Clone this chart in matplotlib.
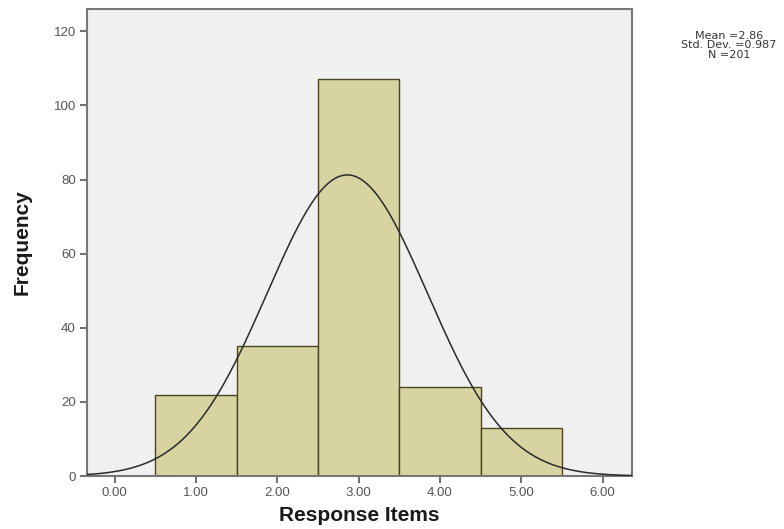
import numpy as np
import matplotlib.pyplot as plt

categorias = [1, 2, 3, 4, 5]
frequencias = [22, 35, 107, 24, 13]
media = 2.86
desvio = 0.987
n_total = 201

plt.rcParams['font.family'] = ['Liberation Sans', 'DejaVu Sans']

fig = plt.figure(figsize=(7.84, 5.29), dpi=100)
ax = fig.add_axes([0.111, 0.100, 0.695, 0.883])
ax.set_facecolor('#f0f0f0')

ax.bar(categorias, frequencias, width=1.0, color='#d8d4a2',
       edgecolor='#4a4420', linewidth=1.0, zorder=2)

# curva normal ajustada (N * largura * pdf)
xs = np.linspace(-0.34, 6.36, 400)
ys = n_total * 1.0 / (desvio * np.sqrt(2 * np.pi)) * np.exp(-0.5 * ((xs - media) / desvio) ** 2)
ax.plot(xs, ys, color='#2a2a2a', linewidth=1.1, zorder=3)

ax.set_xlim(-0.34, 6.36)
ax.set_ylim(0, 126)
ax.set_xticks(range(0, 7))
ax.set_xticklabels(['%.2f' % v for v in range(0, 7)])
ax.set_yticks(range(0, 121, 20))

for s in ax.spines.values():
    s.set_color('#777777')
    s.set_linewidth(1.5)
ax.tick_params(direction='out', length=5, width=1.2, color='#555555',
               labelsize=9.5, labelcolor='#555555', pad=3)

ax.set_xlabel('Response Items', fontsize=15, fontweight='bold', color='#1a1a1a', labelpad=5)
ax.set_ylabel('Frequency', fontsize=15, fontweight='bold', color='#1a1a1a', labelpad=16)

# caixa de estatisticas (estilo SPSS)
fig.text(0.930, 0.914, 'Mean =%.2f\nStd. Dev. =%.3f\nN =%d' % (media, desvio, n_total),
         ha='center', va='center', fontsize=8, color='#333333', linespacing=0.9,
         family='DejaVu Sans')

fig.savefig('out.png', dpi=100, facecolor='white')
